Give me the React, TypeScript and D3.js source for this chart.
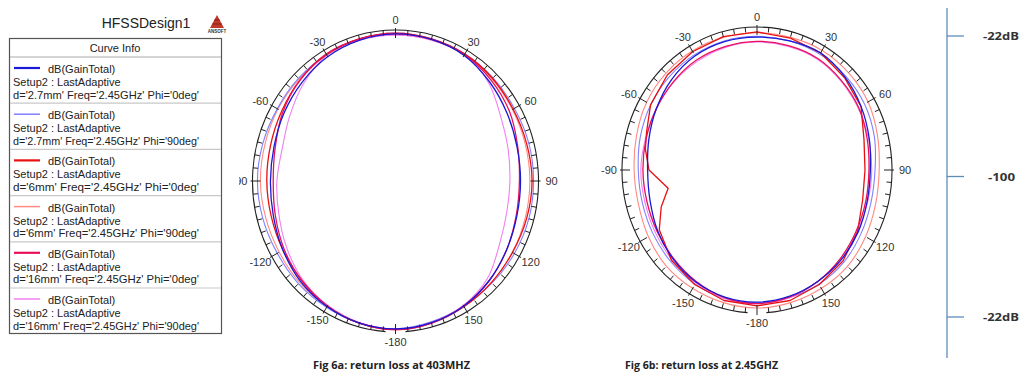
import React from "react";
import * as d3 from "d3";

// ---------- DATA ----------
const ANGLES = [0, 15, 30, 45, 60, 75, 90, 105, 120, 135, 150, 165, 180, 195, 210, 225, 240, 255, 270, 285, 300, 315, 330, 345];
const RED_B_ANGLES = [0, 15, 30, 45, 60, 75, 90, 105, 120, 135, 150, 165, 180, 195, 210, 225, 240, 250, 259, 270, 280, 288, 300, 315, 330, 345];

const TICK_ANGLES = [0, 30, 60, 90, 120, 150, 180, 210, 240, 270, 300, 330];
const TICK_LABELS = ["0", "30", "60", "90", "120", "150", "-180", "-150", "-120", "-90", "-60", "-30"];

const SERIES_COLORS = ["#1a1ad6", "#8080ff", "#e81010", "#ff8a80", "#e8105a", "#f27ff2"];
const LEGEND_D = ["2.7mm", "2.7mm", "6mm", "6mm", "16mm", "16mm"];
const LEGEND_PHI = ["0deg", "90deg", "0deg", "90deg", "0deg", "90deg"];

// Fig 6a (dB)
const A_BLUE = [-24.0, -24.3, -25.1, -27.5, -29.8, -31.4, -31.8, -31.4, -29.8, -27.5, -25.5, -24.3, -23.6, -24.0, -25.1, -26.7, -29.0, -31.0, -31.8, -31.4, -29.8, -27.9, -25.9, -24.7];
const A_LBLUE = [-23.6, -24.0, -24.3, -24.7, -25.1, -24.7, -24.7, -24.7, -25.1, -25.5, -25.5, -24.7, -23.6, -24.0, -24.7, -25.1, -25.5, -25.1, -24.7, -25.1, -25.5, -25.1, -24.7, -24.0];
const A_RED = [-23.6, -24.0, -24.3, -25.1, -25.9, -25.9, -25.5, -25.9, -26.3, -25.9, -25.1, -24.0, -23.2, -24.0, -25.5, -27.5, -29.0, -29.8, -29.8, -29.4, -28.2, -26.3, -24.7, -24.0];
const A_SALMON = [-24.0, -24.3, -24.7, -25.5, -26.3, -26.7, -26.7, -26.7, -26.3, -25.9, -25.1, -24.3, -23.6, -24.0, -25.1, -25.9, -26.7, -26.7, -26.3, -26.3, -25.9, -25.5, -24.7, -24.3];
const A_CRIMSON = [-24.0, -24.3, -24.7, -26.3, -28.2, -31.0, -32.4, -31.8, -29.8, -27.5, -25.5, -24.0, -23.2, -24.0, -25.5, -27.5, -29.8, -32.1, -33.3, -32.1, -29.0, -26.3, -24.3, -24.0];
const A_VIOLET = [-24.7, -24.7, -24.7, -28.2, -33.7, -36.4, -37.6, -37.2, -34.5, -29.0, -25.9, -24.3, -23.6, -24.3, -25.9, -28.2, -31.4, -34.1, -35.3, -36.0, -33.3, -29.0, -25.1, -24.7];

// Fig 6b (dB)
const B_BLUE = [-27.5, -27.1, -26.3, -28.2, -30.6, -32.9, -34.5, -34.1, -32.5, -31.0, -29.8, -28.6, -27.9, -28.2, -29.4, -31.4, -33.7, -36.0, -36.8, -35.3, -32.9, -30.2, -28.2, -27.5];
const B_LBLUE = [-27.1, -27.1, -27.1, -27.5, -28.2, -29.8, -31.8, -31.8, -30.6, -29.0, -28.2, -27.9, -27.5, -27.5, -28.2, -29.4, -30.6, -31.4, -31.4, -30.2, -29.0, -28.2, -27.5, -27.1];
const B_RED = [-24.7, -25.5, -26.3, -28.6, -30.6, -36.0, -37.6, -36.8, -32.9, -29.8, -27.9, -26.3, -25.9, -26.3, -27.9, -30.2, -34.8, -41.1, -47.7, -37.6, -34.5, -32.9, -29.0, -26.7, -25.5, -24.7];
const B_SALMON = [-25.1, -25.1, -24.7, -25.1, -25.9, -27.9, -29.4, -29.0, -27.5, -25.9, -25.5, -25.1, -24.7, -25.1, -25.5, -25.9, -27.5, -29.0, -29.0, -27.9, -26.3, -25.5, -25.1, -25.1];
const B_CRIMSON = [-29.8, -29.8, -29.8, -31.0, -32.1, -34.1, -35.3, -34.9, -33.7, -31.8, -29.8, -28.2, -27.1, -27.9, -29.8, -31.8, -33.3, -34.1, -34.1, -33.7, -32.9, -31.8, -30.6, -30.2];
const B_VIOLET = [-30.2, -30.2, -30.2, -31.4, -32.5, -33.3, -33.7, -33.7, -32.9, -31.0, -29.8, -27.9, -27.1, -27.5, -29.0, -30.6, -32.1, -32.9, -32.9, -33.3, -32.9, -32.1, -31.4, -30.6];

const SCALE_LABELS = ["-22dB", "-100", "-22dB"];
const CAPTIONS = ["Fig 6a: return loss at 403MHZ", "Fig 6b: return loss at 2.45GHZ"];

// ---------- HELPERS ----------
const rScale = d3.scaleLinear().domain([-100, -22]).range([0, 1]);
const FONT = "'Liberation Sans', Arial, sans-serif";

type P = { cx: number; cy: number; rx: number; ry: number };

function pt(p: P, deg: number, f: number, dx = 0, dy = 0): [number, number] {
  const a = (deg * Math.PI) / 180;
  return [p.cx + (p.rx * f + dx) * Math.sin(a), p.cy - (p.ry * f + dy) * Math.cos(a)];
}

type S = { angles: number[]; values: number[]; color: string; w: number; linear?: boolean };

function Polar({ p, series, clipId }: { p: P; series: S[]; clipId?: string }) {
  const smooth = d3.line<[number, number]>().curve(d3.curveCatmullRomClosed.alpha(0.5));
  const straight = d3.line<[number, number]>().curve(d3.curveLinearClosed);
  const gapA = 184, gapB = 176;
  const [sx, sy] = pt(p, gapA, 1);
  const [ex, ey] = pt(p, gapB, 1);
  const ringPath = `M${sx},${sy} A${p.rx},${p.ry} 0 1 1 ${ex},${ey}`;
  const ticks: number[] = [];
  for (let a = 0; a < 360; a += 5) ticks.push(a);
  return (
    <g>
      {series.map((s, i) => (
        <path
          key={i}
          d={(s.linear ? straight : smooth)(s.angles.map((a, j) => pt(p, a, rScale(s.values[j])))) || ""}
          fill="none"
          stroke={s.color}
          strokeWidth={s.w}
          strokeLinejoin="round"
        />
      ))}
      <path d={ringPath} fill="none" stroke="#222" strokeWidth={1.1} />
      {ticks.map((a) => {
        const major = a % 30 === 0;
        const L = major ? 8 : 5;
        const [x1, y1] = pt(p, a, 1, major ? 2 : 0, major ? 2 : 0);
        const [x2, y2] = pt(p, a, 1, -L, -L);
        return <line key={a} x1={x1} y1={y1} x2={x2} y2={y2} stroke="#222" strokeWidth={1} />;
      })}
      <g clipPath={clipId ? `url(#${clipId})` : undefined}>
        {TICK_ANGLES.map((a, i) => {
          const [x, y] = pt(p, a, 1, 13, 10);
          return (
            <text key={a} x={x} y={y} fontSize={11} fontFamily={FONT} fill="#333" textAnchor="middle" dominantBaseline="central">
              {TICK_LABELS[i]}
            </text>
          );
        })}
      </g>
    </g>
  );
}

export default function App() {
  const pA: P = { cx: 395.5, cy: 181, rx: 143, ry: 151 };
  const pB: P = { cx: 757, cy: 170, rx: 135, ry: 143 };

  const mk = (angles: number[], values: number[], ci: number, linear = false): S => ({
    angles,
    values,
    color: SERIES_COLORS[ci],
    w: ci % 2 === 0 ? 1.3 : 1.1,
    linear,
  });

  const seriesA: S[] = [
    mk(ANGLES, A_SALMON, 3),
    mk(ANGLES, A_LBLUE, 1),
    mk(ANGLES, A_VIOLET, 5),
    mk(ANGLES, A_RED, 2),
    mk(ANGLES, A_CRIMSON, 4),
    mk(ANGLES, A_BLUE, 0),
  ];
  const seriesB: S[] = [
    mk(ANGLES, B_SALMON, 3),
    mk(ANGLES, B_LBLUE, 1),
    mk(ANGLES, B_VIOLET, 5),
    mk(RED_B_ANGLES, B_RED, 2, true),
    mk(ANGLES, B_CRIMSON, 4),
    mk(ANGLES, B_BLUE, 0),
  ];

  const legendTop = 57;
  const entryH = 46.2;

  const scaleKeys = ["a", "b", "c"];
  const scaleY = d3.scalePoint<string>().domain(scaleKeys).range([36, 317]);

  return (
    <svg
      width={1020}
      height={382}
      style={{ position: "absolute", left: 0, top: 0, background: "#fff" }}
      xmlns="http://www.w3.org/2000/svg"
    >
      <defs>
        <clipPath id="clipA">
          <rect x={239} y={0} width={400} height={382} />
        </clipPath>
      </defs>
      <rect x={0} y={0} width={1020} height={382} fill="#fff" />

      {/* Title + logo */}
      <text x={146} y={28} fontSize={14} fontFamily={FONT} fill="#222" textAnchor="middle">
        HFSSDesign1
      </text>
      <polygon points="210,28 217,15 224,28" fill="#c0392b" />
      <line x1={212} y1={24} x2={222} y2={24} stroke="#7a1a12" strokeWidth={0.8} />
      <line x1={214} y1={20} x2={220} y2={20} stroke="#7a1a12" strokeWidth={0.8} />
      <text x={217} y={33} fontSize={4.5} fontFamily={FONT} fill="#333" textAnchor="middle" fontWeight="bold">
        ANSOFT
      </text>

      {/* Legend */}
      <rect x={9.5} y={38.5} width={212} height={295} fill="#fff" stroke="#555" strokeWidth={1.2} />
      <text x={115} y={52} fontSize={11} fontFamily={FONT} fill="#222" textAnchor="middle">
        Curve Info
      </text>
      <line x1={10} y1={legendTop} x2={221} y2={legendTop} stroke="#aaa" strokeWidth={1} />
      {SERIES_COLORS.map((c, i) => {
        const top = legendTop + i * entryH;
        return (
          <g key={i}>
            <line x1={14} y1={top + 11} x2={40} y2={top + 11} stroke={c} strokeWidth={i % 2 === 0 ? 2.2 : 1.5} />
            <text x={48} y={top + 16} fontSize={11} fontFamily={FONT} fill="#222">
              dB(GainTotal)
            </text>
            <text x={13} y={top + 29} fontSize={11} fontFamily={FONT} fill="#222">
              Setup2 : LastAdaptive
            </text>
            <text x={13} y={top + 41.5} fontSize={11} fontFamily={FONT} fill="#222" textLength={186} lengthAdjust="spacingAndGlyphs">
              {`d='${LEGEND_D[i]}' Freq='2.45GHz' Phi='${LEGEND_PHI[i]}'`}
            </text>
            {i < SERIES_COLORS.length - 1 && (
              <line x1={10} y1={top + entryH} x2={221} y2={top + entryH} stroke="#c8c8c8" strokeWidth={1.2} />
            )}
          </g>
        );
      })}

      <Polar p={pA} series={seriesA} clipId="clipA" />
      <Polar p={pB} series={seriesB} />

      {/* Right scale */}
      <line x1={947} y1={8} x2={947} y2={358} stroke="#5b8db8" strokeWidth={1.3} />
      {scaleKeys.map((k, i) => (
        <g key={k}>
          <line x1={947} y1={scaleY(k)} x2={964} y2={scaleY(k)} stroke="#5b8db8" strokeWidth={1.3} />
          <text
            x={i === 1 ? 988 : 983}
            y={(scaleY(k) || 0) + 4}
            fontSize={10}
            fontWeight="bold"
            fontFamily="'Open Sans', 'DejaVu Sans', sans-serif"
            fill="#333"
            textLength={i === 1 ? 27 : 36}
            lengthAdjust="spacingAndGlyphs"
          >
            {SCALE_LABELS[i]}
          </text>
        </g>
      ))}

      {/* Captions */}
      <text x={313} y={369} fontSize={10.5} fontWeight="bold" fontFamily="'Open Sans', 'DejaVu Sans', sans-serif" fill="#222" textLength={157} lengthAdjust="spacingAndGlyphs">
        {CAPTIONS[0]}
      </text>
      <text x={625} y={369} fontSize={10.5} fontWeight="bold" fontFamily="'Open Sans', 'DejaVu Sans', sans-serif" fill="#222" textLength={153} lengthAdjust="spacingAndGlyphs">
        {CAPTIONS[1]}
      </text>
    </svg>
  );
}
